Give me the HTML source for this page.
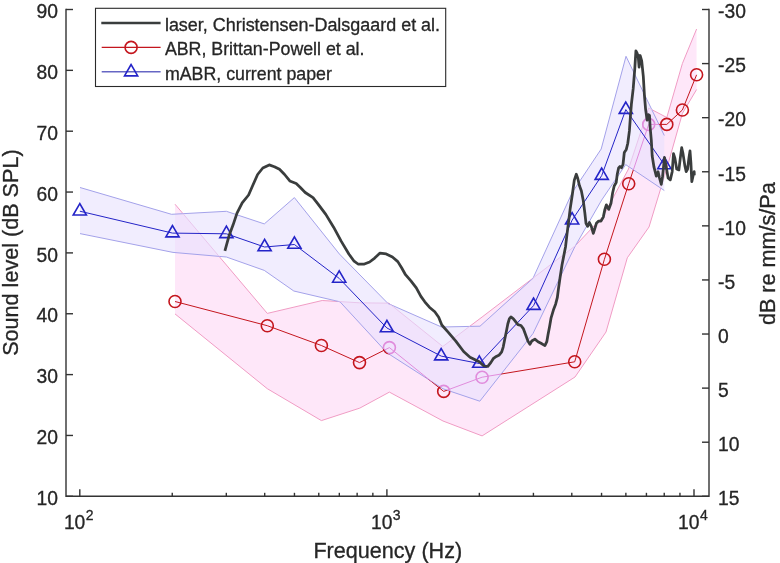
<!DOCTYPE html><html><head><meta charset="utf-8"><title>Audiogram</title><style>html,body{margin:0;padding:0;background:#fff}svg{display:block;will-change:transform}text{font-family:"Liberation Sans",sans-serif;fill:#262626;stroke:#262626;stroke-width:0.3px}</style></head><body>
<svg width="780" height="563" viewBox="0 0 780 563">
<rect width="780" height="563" fill="#fff"/>
<defs><clipPath id="bclip"><polygon points="80.0,187.5 171.5,214.3 226.4,211.3 264.3,223.9 294.4,197.6 339.4,254.0 388.0,303.5 441.5,327.0 480.0,326.2 533.0,278.3 572.2,192.5 601.2,149.0 626.0,56.3 664.3,135.5 664.3,190.5 625.7,164.6 601.7,200.0 574.7,247.0 533.0,333.5 479.8,401.2 443.0,388.8 387.0,352.8 340.0,301.8 293.8,291.0 264.3,270.4 226.4,257.0 173.0,252.4 80.0,233.6"/></clipPath><clipPath id="oclip"><path clip-rule="evenodd" d="M0,0H780V563H0Z M80.0,187.5 L171.5,214.3 L226.4,211.3 L264.3,223.9 L294.4,197.6 L339.4,254.0 L388.0,303.5 L441.5,327.0 L480.0,326.2 L533.0,278.3 L572.2,192.5 L601.2,149.0 L626.0,56.3 L664.3,135.5 L664.3,190.5 L625.7,164.6 L601.7,200.0 L574.7,247.0 L533.0,333.5 L479.8,401.2 L443.0,388.8 L387.0,352.8 L340.0,301.8 L293.8,291.0 L264.3,270.4 L226.4,257.0 L173.0,252.4 L80.0,233.6Z"/></clipPath></defs>
<polygon points="175.0,204.2 267.3,313.4 322.2,300.5 359.5,302.8 388.9,303.2 442.8,346.5 482.1,317.0 575.0,246.0 603.0,216.5 628.5,169.0 648.7,108.0 666.8,117.5 682.4,63.5 696.6,29.0 696.6,89.5 682.4,113.4 666.8,168.5 649.0,227.0 627.3,257.8 606.0,332.0 575.0,377.0 482.1,435.9 443.0,421.0 389.4,392.1 359.8,408.1 321.4,420.6 267.3,388.7 175.0,313.9" fill="#f625c8" fill-opacity="0.11"/>
<g clip-path="url(#oclip)"><polyline points="175.0,204.2 267.3,313.4 322.2,300.5 359.5,302.8 388.9,303.2 442.8,346.5 482.1,317.0 575.0,246.0 603.0,216.5 628.5,169.0 648.7,108.0 666.8,117.5 682.4,63.5 696.6,29.0" fill="none" stroke="#f09cc4" stroke-width="1"/><polyline points="175.0,313.9 267.3,388.7 321.4,420.6 359.8,408.1 389.4,392.1 443.0,421.0 482.1,435.9 575.0,377.0 606.0,332.0 627.3,257.8 649.0,227.0 666.8,168.5 682.4,113.4 696.6,89.5" fill="none" stroke="#f09cc4" stroke-width="1"/></g>
<polygon points="80.0,187.5 171.5,214.3 226.4,211.3 264.3,223.9 294.4,197.6 339.4,254.0 388.0,303.5 441.5,327.0 480.0,326.2 533.0,278.3 572.2,192.5 601.2,149.0 626.0,56.3 664.3,135.5 664.3,190.5 625.7,164.6 601.7,200.0 574.7,247.0 533.0,333.5 479.8,401.2 443.0,388.8 387.0,352.8 340.0,301.8 293.8,291.0 264.3,270.4 226.4,257.0 173.0,252.4 80.0,233.6" fill="#ffffff" fill-opacity="0.6"/>
<polygon points="80.0,187.5 171.5,214.3 226.4,211.3 264.3,223.9 294.4,197.6 339.4,254.0 388.0,303.5 441.5,327.0 480.0,326.2 533.0,278.3 572.2,192.5 601.2,149.0 626.0,56.3 664.3,135.5 664.3,190.5 625.7,164.6 601.7,200.0 574.7,247.0 533.0,333.5 479.8,401.2 443.0,388.8 387.0,352.8 340.0,301.8 293.8,291.0 264.3,270.4 226.4,257.0 173.0,252.4 80.0,233.6" fill="#6337f4" fill-opacity="0.09"/>
<polyline points="80.0,187.5 171.5,214.3 226.4,211.3 264.3,223.9 294.4,197.6 339.4,254.0 388.0,303.5 441.5,327.0 480.0,326.2 533.0,278.3 572.2,192.5 601.2,149.0 626.0,56.3 664.3,135.5" fill="none" stroke="#a4a2ea" stroke-width="1"/><polyline points="80.0,233.6 173.0,252.4 226.4,257.0 264.3,270.4 293.8,291.0 340.0,301.8 387.0,352.8 443.0,388.8 479.8,401.2 533.0,333.5 574.7,247.0 601.7,200.0 625.7,164.6 664.3,190.5" fill="none" stroke="#a4a2ea" stroke-width="1"/>
<g clip-path="url(#bclip)"><polyline points="175.0,204.2 267.3,313.4 322.2,300.5 359.5,302.8 388.9,303.2 442.8,346.5 482.1,317.0 575.0,246.0 603.0,216.5 628.5,169.0 648.7,108.0 666.8,117.5 682.4,63.5 696.6,29.0" fill="none" stroke="#e8c6ec" stroke-width="1"/><polyline points="175.0,313.9 267.3,388.7 321.4,420.6 359.8,408.1 389.4,392.1 443.0,421.0 482.1,435.9 575.0,377.0 606.0,332.0 627.3,257.8 649.0,227.0 666.8,168.5 682.4,113.4 696.6,89.5" fill="none" stroke="#e8c6ec" stroke-width="1"/></g>
<g clip-path="url(#oclip)"><polyline points="175.0,301.5 267.3,325.7 321.4,345.5 359.5,362.6 389.4,347.6 443.7,391.4 482.1,377.2 574.7,361.8 604.4,259.3 628.7,183.7 648.7,124.4 666.8,124.4 682.4,110.0 696.6,74.8" fill="none" stroke="#c4161e" stroke-width="1.0"/><circle cx="175.0" cy="301.5" r="6.0" fill="none" stroke="#c4161e" stroke-width="1.6"/><circle cx="267.3" cy="325.7" r="6.0" fill="none" stroke="#c4161e" stroke-width="1.6"/><circle cx="321.4" cy="345.5" r="6.0" fill="none" stroke="#c4161e" stroke-width="1.6"/><circle cx="359.5" cy="362.6" r="6.0" fill="none" stroke="#c4161e" stroke-width="1.6"/><circle cx="389.4" cy="347.6" r="6.0" fill="none" stroke="#c4161e" stroke-width="1.6"/><circle cx="443.7" cy="391.4" r="6.0" fill="none" stroke="#c4161e" stroke-width="1.6"/><circle cx="482.1" cy="377.2" r="6.0" fill="none" stroke="#c4161e" stroke-width="1.6"/><circle cx="574.7" cy="361.8" r="6.0" fill="none" stroke="#c4161e" stroke-width="1.6"/><circle cx="604.4" cy="259.3" r="6.0" fill="none" stroke="#c4161e" stroke-width="1.6"/><circle cx="628.7" cy="183.7" r="6.0" fill="none" stroke="#c4161e" stroke-width="1.6"/><circle cx="648.7" cy="124.4" r="6.0" fill="none" stroke="#c4161e" stroke-width="1.6"/><circle cx="666.8" cy="124.4" r="6.0" fill="none" stroke="#c4161e" stroke-width="1.6"/><circle cx="682.4" cy="110.0" r="6.0" fill="none" stroke="#c4161e" stroke-width="1.6"/><circle cx="696.6" cy="74.8" r="6.0" fill="none" stroke="#c4161e" stroke-width="1.6"/></g>
<g clip-path="url(#bclip)"><polyline points="175.0,301.5 267.3,325.7 321.4,345.5 359.5,362.6 389.4,347.6 443.7,391.4 482.1,377.2 574.7,361.8 604.4,259.3 628.7,183.7 648.7,124.4 666.8,124.4 682.4,110.0 696.6,74.8" fill="none" stroke="#e08cdc" stroke-width="1.0"/><circle cx="175.0" cy="301.5" r="6.0" fill="none" stroke="#e08cdc" stroke-width="1.6"/><circle cx="267.3" cy="325.7" r="6.0" fill="none" stroke="#e08cdc" stroke-width="1.6"/><circle cx="321.4" cy="345.5" r="6.0" fill="none" stroke="#e08cdc" stroke-width="1.6"/><circle cx="359.5" cy="362.6" r="6.0" fill="none" stroke="#e08cdc" stroke-width="1.6"/><circle cx="389.4" cy="347.6" r="6.0" fill="none" stroke="#e08cdc" stroke-width="1.6"/><circle cx="443.7" cy="391.4" r="6.0" fill="none" stroke="#e08cdc" stroke-width="1.6"/><circle cx="482.1" cy="377.2" r="6.0" fill="none" stroke="#e08cdc" stroke-width="1.6"/><circle cx="574.7" cy="361.8" r="6.0" fill="none" stroke="#e08cdc" stroke-width="1.6"/><circle cx="604.4" cy="259.3" r="6.0" fill="none" stroke="#e08cdc" stroke-width="1.6"/><circle cx="628.7" cy="183.7" r="6.0" fill="none" stroke="#e08cdc" stroke-width="1.6"/><circle cx="648.7" cy="124.4" r="6.0" fill="none" stroke="#e08cdc" stroke-width="1.6"/><circle cx="666.8" cy="124.4" r="6.0" fill="none" stroke="#e08cdc" stroke-width="1.6"/><circle cx="682.4" cy="110.0" r="6.0" fill="none" stroke="#e08cdc" stroke-width="1.6"/><circle cx="696.6" cy="74.8" r="6.0" fill="none" stroke="#e08cdc" stroke-width="1.6"/></g>
<polyline points="79.8,211.2 172.5,233.1 226.4,233.8 264.6,247.0 294.4,244.5 339.2,278.4 386.9,328.0 441.2,356.1 479.3,363.5 533.6,305.6 572.1,220.2 601.7,175.6 625.8,109.6 664.4,164.9" fill="none" stroke="#2424c8" stroke-width="1.0"/>
<polygon points="79.8,203.6 73.2,215.0 86.4,215.0" fill="none" stroke="#2424c8" stroke-width="1.6" stroke-linejoin="miter"/>
<polygon points="172.5,225.5 165.9,236.9 179.1,236.9" fill="none" stroke="#2424c8" stroke-width="1.6" stroke-linejoin="miter"/>
<polygon points="226.4,226.2 219.8,237.6 233.0,237.6" fill="none" stroke="#2424c8" stroke-width="1.6" stroke-linejoin="miter"/>
<polygon points="264.6,239.4 258.0,250.8 271.2,250.8" fill="none" stroke="#2424c8" stroke-width="1.6" stroke-linejoin="miter"/>
<polygon points="294.4,236.9 287.8,248.3 301.0,248.3" fill="none" stroke="#2424c8" stroke-width="1.6" stroke-linejoin="miter"/>
<polygon points="339.2,270.8 332.6,282.2 345.8,282.2" fill="none" stroke="#2424c8" stroke-width="1.6" stroke-linejoin="miter"/>
<polygon points="386.9,320.4 380.3,331.8 393.5,331.8" fill="none" stroke="#2424c8" stroke-width="1.6" stroke-linejoin="miter"/>
<polygon points="441.2,348.5 434.6,359.9 447.8,359.9" fill="none" stroke="#2424c8" stroke-width="1.6" stroke-linejoin="miter"/>
<polygon points="479.3,355.9 472.7,367.3 485.9,367.3" fill="none" stroke="#2424c8" stroke-width="1.6" stroke-linejoin="miter"/>
<polygon points="533.6,298.0 527.0,309.4 540.2,309.4" fill="none" stroke="#2424c8" stroke-width="1.6" stroke-linejoin="miter"/>
<polygon points="572.1,212.6 565.5,224.0 578.7,224.0" fill="none" stroke="#2424c8" stroke-width="1.6" stroke-linejoin="miter"/>
<polygon points="601.7,168.0 595.1,179.4 608.3,179.4" fill="none" stroke="#2424c8" stroke-width="1.6" stroke-linejoin="miter"/>
<polygon points="625.8,102.0 619.2,113.4 632.4,113.4" fill="none" stroke="#2424c8" stroke-width="1.6" stroke-linejoin="miter"/>
<polygon points="664.4,157.3 657.8,168.7 671.0,168.7" fill="none" stroke="#2424c8" stroke-width="1.6" stroke-linejoin="miter"/>
<polyline points="224.9,250.9 229.3,234.9 233.2,224.6 237.0,213.1 242.2,202.8 248.6,195.0 252.5,186.0 257.6,174.5 262.8,168.0 269.2,164.9 274.4,166.7 279.5,169.3 284.6,174.5 289.8,180.9 296.2,183.5 300.1,187.3 305.2,192.5 313.0,197.6 318.1,204.1 325.8,214.4 333.6,227.2 341.3,241.4 349.0,254.2 354.1,261.2 358.0,264.0 364.4,264.0 369.6,262.0 374.7,258.1 380.0,253.1 386.2,253.9 392.4,257.0 397.8,261.6 401.6,267.8 405.5,274.7 410.9,280.9 416.3,287.9 420.9,296.4 424.8,301.8 429.4,307.2 434.8,311.8 438.7,317.2 441.8,325.0 448.1,332.2 455.8,341.2 463.6,351.5 470.0,357.2 474.6,359.5 479.3,361.8 483.9,366.0 487.8,366.4 490.8,362.6 493.2,358.7 496.3,356.4 499.3,354.9 501.7,351.8 503.2,347.1 504.7,339.4 506.3,331.7 507.8,324.0 509.4,318.6 510.9,317.0 513.2,318.6 515.6,321.7 517.9,324.7 521.0,325.5 523.3,328.6 525.6,334.8 527.9,341.0 529.9,344.4 531.8,341.0 534.9,339.1 538.0,341.7 541.0,343.3 544.9,345.6 546.8,341.7 548.0,334.8 549.5,327.1 551.1,317.8 553.4,310.1 555.7,303.9 557.3,297.7 558.3,290.0 560.0,278.0 562.0,265.0 565.5,247.0 567.0,234.1 568.6,221.8 570.1,209.4 572.4,194.0 574.3,180.1 576.3,174.2 577.8,178.5 579.4,185.5 581.4,190.9 583.2,200.2 584.8,212.5 586.0,223.3 587.6,226.4 589.4,222.5 591.3,226.4 593.3,233.4 594.8,228.7 596.4,223.3 598.7,221.0 601.0,221.0 603.3,217.1 604.9,209.4 606.4,204.8 608.7,209.4 611.0,203.2 612.6,193.0 614.2,186.0 616.2,182.5 617.3,174.0 618.6,168.0 620.0,166.5 621.5,167.8 623.0,164.5 623.6,159.0 624.3,152.5 626.3,149.4 627.8,143.2 629.4,130.9 630.5,115.4 631.4,104.1 633.2,88.7 634.8,68.6 635.9,50.8 637.1,53.2 638.2,56.3 639.1,67.1 640.2,55.5 641.7,60.9 643.3,76.3 644.4,94.9 645.6,109.3 647.1,120.1 648.4,114.7 649.5,115.4 650.2,127.8 651.3,140.0 652.2,156.0 654.0,167.2 656.3,176.2 658.1,171.7 659.5,178.0 661.3,184.4 662.6,176.2 664.5,157.5 666.3,167.2 668.1,178.0 670.3,179.9 672.2,171.7 673.5,153.6 674.9,158.1 676.7,169.0 678.9,169.9 680.3,158.1 681.7,147.7 683.0,153.6 684.8,165.4 686.2,171.7 687.6,169.0 688.9,158.1 690.0,150.9 690.9,162.6 691.8,181.7 693.0,176.2 694.2,171.7 694.3,175.3" fill="none" stroke="#3a3d3d" stroke-width="2.75" stroke-linejoin="round" stroke-linecap="butt"/>
<g stroke="#333333" stroke-width="1.4" fill="none">
<path d="M66.0,8.8 V496.3 H709.0 V8.8"/>
<path d="M66.0,496.30 h7"/>
<path d="M66.0,435.45 h7"/>
<path d="M66.0,374.60 h7"/>
<path d="M66.0,313.75 h7"/>
<path d="M66.0,252.90 h7"/>
<path d="M66.0,192.05 h7"/>
<path d="M66.0,131.20 h7"/>
<path d="M66.0,70.35 h7"/>
<path d="M66.0,9.50 h7"/>
<path d="M709.0,9.50 h-7"/>
<path d="M709.0,63.59 h-7"/>
<path d="M709.0,117.68 h-7"/>
<path d="M709.0,171.77 h-7"/>
<path d="M709.0,225.86 h-7"/>
<path d="M709.0,279.94 h-7"/>
<path d="M709.0,334.03 h-7"/>
<path d="M709.0,388.12 h-7"/>
<path d="M709.0,442.21 h-7"/>
<path d="M709.0,496.30 h-7"/>
<path d="M79.80,496.3 v-7"/>
<path d="M172.25,496.3 v-3.5"/>
<path d="M226.32,496.3 v-3.5"/>
<path d="M264.69,496.3 v-3.5"/>
<path d="M294.45,496.3 v-3.5"/>
<path d="M318.77,496.3 v-3.5"/>
<path d="M339.33,496.3 v-3.5"/>
<path d="M357.14,496.3 v-3.5"/>
<path d="M372.85,496.3 v-3.5"/>
<path d="M386.90,496.3 v-7"/>
<path d="M479.35,496.3 v-3.5"/>
<path d="M533.42,496.3 v-3.5"/>
<path d="M571.79,496.3 v-3.5"/>
<path d="M601.55,496.3 v-3.5"/>
<path d="M625.87,496.3 v-3.5"/>
<path d="M646.43,496.3 v-3.5"/>
<path d="M664.24,496.3 v-3.5"/>
<path d="M679.95,496.3 v-3.5"/>
<path d="M694.00,496.3 v-7"/>
</g>
<g font-size="19.3">
<text x="58" y="505.0" text-anchor="end">10</text>
<text x="58" y="444.1" text-anchor="end">20</text>
<text x="58" y="383.3" text-anchor="end">30</text>
<text x="58" y="322.4" text-anchor="end">40</text>
<text x="58" y="261.6" text-anchor="end">50</text>
<text x="58" y="200.8" text-anchor="end">60</text>
<text x="58" y="139.9" text-anchor="end">70</text>
<text x="58" y="79.1" text-anchor="end">80</text>
<text x="58" y="18.2" text-anchor="end">90</text>
<text x="718" y="18.2">-30</text>
<text x="718" y="72.3">-25</text>
<text x="718" y="126.4">-20</text>
<text x="718" y="180.5">-15</text>
<text x="718" y="234.6">-10</text>
<text x="718" y="288.6">-5</text>
<text x="718" y="342.7">0</text>
<text x="718" y="396.8">5</text>
<text x="718" y="450.9">10</text>
<text x="718" y="505.0">15</text>
<text x="63.9" y="528.8">10<tspan font-size="14" dx="0.4" dy="-9.2">2</tspan></text>
<text x="371.0" y="528.8">10<tspan font-size="14" dx="0.4" dy="-9.2">3</tspan></text>
<text x="678.1" y="528.8">10<tspan font-size="14" dx="0.4" dy="-9.2">4</tspan></text>
</g>
<text x="387.8" y="557.9" font-size="21.6" text-anchor="middle">Frequency (Hz)</text>
<text transform="translate(18.4,252.6) rotate(-90)" font-size="21.6" text-anchor="middle">Sound level (dB SPL)</text>
<text transform="translate(774.6,253.7) rotate(-90)" font-size="21.6" text-anchor="middle">dB re mm/s/Pa</text>
<rect x="95.5" y="8.3" width="350.2" height="78.2" fill="#fff" stroke="#2a2a2a" stroke-width="1.1"/>
<path d="M101.3,23.0 H160.6" stroke="#3a3d3d" stroke-width="2.7"/>
<path d="M101.7,47.4 H160.6" stroke="#c4161e" stroke-width="1.3"/><circle cx="131.1" cy="47.4" r="6.0" fill="none" stroke="#c4161e" stroke-width="1.6"/>
<path d="M101.7,71.8 H160.6" stroke="#6666c4" stroke-width="1.4"/><polygon points="131.1,64.5 124.5,75.9 137.7,75.9" fill="none" stroke="#2424c8" stroke-width="1.6" stroke-linejoin="miter"/>
<g font-size="17.95">
<text x="164.9" y="30.8">laser, Christensen-Dalsgaard et al.</text>
<text x="164.9" y="55.2" font-size="17.8">ABR, Brittan-Powell et al.</text>
<text x="164.9" y="79.6" font-size="17.8">mABR, current paper</text>
</g>
</svg></body></html>
